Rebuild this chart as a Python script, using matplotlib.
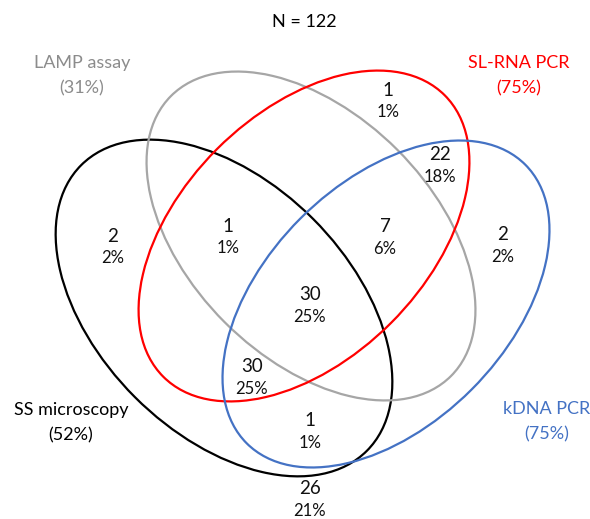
import matplotlib.pyplot as plt
from matplotlib.patches import Ellipse

plt.rcParams['font.family'] = ['Lato', 'DejaVu Sans']

# sets
set_names = ["SS microscopy", "LAMP assay", "SL-RNA PCR", "kDNA PCR"]
set_pcts = ["(52%)", "(31%)", "(75%)", "(75%)"]
set_colors = ["#000000", "#a6a6a6", "#ff0000", "#4472c4"]
label_colors = ["#000000", "#8c8c8c", "#ff0000", "#4472c4"]

# region counts / percentages (N = 122)
region_counts = ["2", "1", "1", "22", "7", "30", "30", "2", "1", "26"]
region_pcts = ["2%", "1%", "1%", "18%", "6%", "25%", "25%", "2%", "1%", "21%"]
total_n = 122

# layout (pixel space, y down)
ell_centers = [(224, 308), (311, 236), (304, 236), (386, 304)]
ell_axes = [(404, 252), (396, 244), (398, 246), (394, 242)]
ell_angles = [45, 45, -45, -45]
label_xy = [(71, 410), (82, 63), (519, 63), (547, 409)]
region_xy = [(113, 236), (228, 226), (388, 90), (440, 155), (385, 227),
             (310, 295), (252, 367), (503, 235), (310, 421), (310, 489)]

fig = plt.figure(figsize=(5.9, 5.19), dpi=100)
ax = fig.add_axes([0, 0, 1, 1])
ax.set_xlim(0, 590)
ax.set_ylim(519, 0)
ax.axis("off")

for (cx, cy), (w, h), ang, col in zip(ell_centers, ell_axes, ell_angles, set_colors):
    ax.add_patch(Ellipse((cx, cy), w, h, angle=ang, fill=False,
                         edgecolor=col, linewidth=1.6))

for (x, y), name, pct, col in zip(label_xy, set_names, set_pcts, label_colors):
    ax.text(x, y, name, ha="center", va="center", fontsize=13, color=col)
    ax.text(x, y + 25, pct, ha="center", va="center", fontsize=13, color=col)

for (x, y), cnt, pct in zip(region_xy, region_counts, region_pcts):
    ax.text(x, y, cnt, ha="center", va="center", fontsize=13.5, color="#111111")
    ax.text(x, y + 22, pct, ha="center", va="center", fontsize=12, color="#111111")

ax.text(304, 22, f"N = {total_n}", ha="center", va="center", fontsize=13, color="#000000")

fig.savefig("out.png", dpi=100)
